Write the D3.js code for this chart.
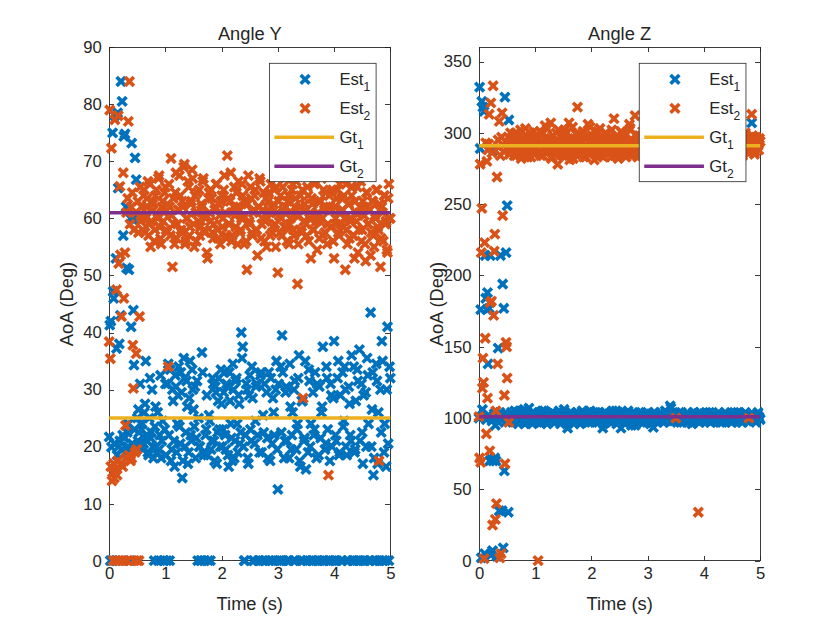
<!DOCTYPE html>
<html lang="en">
<head>
<meta charset="UTF-8">
<title>Angle Y / Angle Z</title>
<script src="https://d3js.org/d3.v7.min.js"></script>
<style>
    body { margin: 0; background: #ffffff; }
    svg text { font-family: "Liberation Sans", Arial, Helvetica, sans-serif; fill: #262626; }
</style>
</head>
<body>
<svg id="fig" width="840" height="630"></svg>
<script>
// sample times (s): dense start-up part, then the steady part
const timeS = [
    0,0.01,0.02,0.03,0.04,0.05,0.06,0.07,0.08,0.09,0.1,0.11,0.12,0.13,0.14,0.15,0.16,0.17,0.18,0.19,
    0.2,0.21,0.22,0.23,0.24,0.25,0.26,0.27,0.28,0.29,0.3,0.31,0.32,0.33,0.34,0.35,0.36,0.37,0.38,0.39,
    0.4,0.41,0.42,0.43,0.44,0.45,0.46,0.47,0.48,0.49,0.5,0.51,0.52,0.53,0.54,0.55,0.56,
    0.575,0.6,0.625,0.65,0.675,0.7,0.725,0.75,0.775,0.8,0.825,0.85,0.875,0.9,0.925,0.95,0.975,1,
    1.025,1.05,1.075,1.1,1.125,1.15,1.175,1.2,1.225,1.25,1.275,1.3,1.325,1.35,1.375,1.4,1.425,1.45,1.475,1.5,
    1.525,1.55,1.575,1.6,1.625,1.65,1.675,1.7,1.725,1.75,1.775,1.8,1.825,1.85,1.875,1.9,1.925,1.95,1.975,2,
    2.025,2.05,2.075,2.1,2.125,2.15,2.175,2.2,2.225,2.25,2.275,2.3,2.325,2.35,2.375,2.4,2.425,2.45,2.475,2.5,
    2.525,2.55,2.575,2.6,2.625,2.65,2.675,2.7,2.725,2.75,2.775,2.8,2.825,2.85,2.875,2.9,2.925,2.95,2.975,3,
    3.025,3.05,3.075,3.1,3.125,3.15,3.175,3.2,3.225,3.25,3.275,3.3,3.325,3.35,3.375,3.4,3.425,3.45,3.475,3.5,
    3.525,3.55,3.575,3.6,3.625,3.65,3.675,3.7,3.725,3.75,3.775,3.8,3.825,3.85,3.875,3.9,3.925,3.95,3.975,4,
    4.025,4.05,4.075,4.1,4.125,4.15,4.175,4.2,4.225,4.25,4.275,4.3,4.325,4.35,4.375,4.4,4.425,4.45,4.475,4.5,
    4.525,4.55,4.575,4.6,4.625,4.65,4.675,4.7,4.725,4.75,4.775,4.8,4.825,4.85,4.875,4.9,4.925,4.95,4.975,5
];
// in-between samples of the steady part (s)
const timeFill = [
    0.5875,0.6125,0.6375,0.6625,0.6875,0.7125,0.7375,0.7625,0.7875,0.8125,0.8375,0.8625,0.8875,0.9125,0.9375,0.9625,0.9875,
    1.0125,1.0375,1.0625,1.0875,1.1125,1.1375,1.1625,1.1875,1.2125,1.2375,1.2625,1.2875,1.3125,1.3375,1.3625,1.3875,1.4125,1.4375,1.4625,1.4875,
    1.5125,1.5375,1.5625,1.5875,1.6125,1.6375,1.6625,1.6875,1.7125,1.7375,1.7625,1.7875,1.8125,1.8375,1.8625,1.8875,1.9125,1.9375,1.9625,1.9875,
    2.0125,2.0375,2.0625,2.0875,2.1125,2.1375,2.1625,2.1875,2.2125,2.2375,2.2625,2.2875,2.3125,2.3375,2.3625,2.3875,2.4125,2.4375,2.4625,2.4875,
    2.5125,2.5375,2.5625,2.5875,2.6125,2.6375,2.6625,2.6875,2.7125,2.7375,2.7625,2.7875,2.8125,2.8375,2.8625,2.8875,2.9125,2.9375,2.9625,2.9875,
    3.0125,3.0375,3.0625,3.0875,3.1125,3.1375,3.1625,3.1875,3.2125,3.2375,3.2625,3.2875,3.3125,3.3375,3.3625,3.3875,3.4125,3.4375,3.4625,3.4875,
    3.5125,3.5375,3.5625,3.5875,3.6125,3.6375,3.6625,3.6875,3.7125,3.7375,3.7625,3.7875,3.8125,3.8375,3.8625,3.8875,3.9125,3.9375,3.9625,3.9875,
    4.0125,4.0375,4.0625,4.0875,4.1125,4.1375,4.1625,4.1875,4.2125,4.2375,4.2625,4.2875,4.3125,4.3375,4.3625,4.3875,4.4125,4.4375,4.4625,4.4875,
    4.5125,4.5375,4.5625,4.5875,4.6125,4.6375,4.6625,4.6875,4.7125,4.7375,4.7625,4.7875,4.8125,4.8375,4.8625,4.8875,4.9125,4.9375,4.9625,4.9875
];

// Angle Y estimates (deg)
const angleYEst1 = [
    21.7,41.3,0,42,19.9,0,75,47.2,46,20.5,78,0,53,37.2,18.5,78.5,65.3,20,38,21,
    43,84,19.5,80.5,22,57,74.4,21.5,74.8,19,62,51.3,22.5,20,24,51,19.5,0,60,41,
    73.2,20.5,59.8,43.9,34.3,23,70.6,60.2,66.8,19.8,25,21,26.5,22.5,20.5,31,24,
    23,19.5,26,35,21,18.5,32,22.5,20,0,27,19,0,22,18,24.5,0,31,
    0,34.5,0,17.5,30,21,32.5,19,29,23.5,33,14.5,35.5,20,31.5,17,28.5,22,33.5,26.5,
    30.5,21.5,0,20,0,36.5,19,0,23,18.5,25.5,0,21,31,17.5,29.5,22.5,32,20,27.5,
    23,33,19.5,30.5,16.5,28,21.5,34.5,18,31.5,24,29,20.5,40,37.5,0,22,30,17,32.5,
    21,28.5,0,24.5,31,0,19,33,0,22.5,0,29.5,18,0,32,20.5,26,0,35,12.5,
    0,34,39.5,0,21,30.5,0,18,27,22,0,31.5,19.5,24,36,16.5,28,0,21.5,16,
    0,33.5,20,0,29.5,23,0,31,18.5,0,26,37.5,0,20.5,32,0,17.5,29,0,38.5,
    22,0,35,19,0,33,24.5,30,18.5,0,27.5,21,0,34,19.5,0,31.5,37,0,22.5,
    29,0,20,32.5,0,43.5,26.5,15,0,34.5,17,0,30,38.5,0,24,16.5,41,0,32
];
const angleYEst1Fill = [
    24,20.5,27.5,22,19,25,21.5,30,18,23.5,20,26,19.5,32.5,21,0,23,
    18.5,31,22,33.5,19.5,28,16.5,30.5,24,34,20.5,29.5,17.5,32,22.5,27,19,35,21,30,
    23.5,18,31.5,25,20,0,33,18.5,22,29,0,24.5,19.5,32,21,30.5,17,28,23,33.5,
    20,29.5,22,31,18.5,33,24,17.5,30,21,32,19,27.5,22.5,35.5,20,0,31,18,29,
    23,34,0,20.5,30.5,22,0,32.5,19,25.5,31,0,21.5,33,17.5,0,28.5,22,30,19.5,
    31,0,22.5,33,18,29.5,21,0,34.5,19.5,26,30,0,23,32,17.5,0,28,21,35,
    0,19,31.5,24,0,22,33,18,0,30.5,21.5,27,0,19.5,34,23,0,31,20,28.5,
    0,21,32,18.5,29,0,23.5,34,20,0,30.5,22,36,0,19,28,33.5,0,21,31,
    17,0,29.5,35.5,24,0,20,33,18,0,31.5,26,0,22.5,35,19,0,30,20.5,34
];
const angleYEst2 = [
    38.4,79,35.4,16.5,72.3,14,15.5,0,17,14.5,77.3,16,0,47.5,15,17.5,78,52.1,0,65.6,
    53.6,17,42.8,0,16.5,68,46,0,54,23.7,18,61,0,63.5,77,18.5,84,59,17.5,62,
    18,64.5,37.8,30.2,58,0,19,61,36.3,19.5,0,63,57.5,0,42.8,65.5,59.5,
    62,58,65,60,63.5,57,66,59.5,62.5,56,64,60.5,67,58.5,55.5,63,61,65.5,
    57.5,34,62,70.5,51.5,59,64.5,56.5,61.5,67.5,58,63,69,55.5,60,66.5,57,62.5,68.5,59,
    64,56,61,65,58.5,62,67,57.5,60.5,53,64.5,59.5,63.5,56.5,61.5,66,58,62.5,55.5,64,
    60,67.5,57,71,59,63,56,61,65.5,58.5,62,66.5,57.5,60,64,55.5,62.5,51,67.5,59,
    63.5,57,61.5,65,58,62,67,56.5,60,64.5,59.5,55,63,61,66,57.5,62.5,59,65.5,50.5,
    60.5,64,57,61.5,67,58.5,63,55.5,60,65,58,62,66.5,48.5,60.5,64,57.5,28.5,62.5,59,
    65.5,56,61,63.5,58,66,60,54.5,63,59.5,67,57,61.5,64.5,55.5,15,62,58.5,65,53,
    60,63.5,57.5,66,59,61.5,64,51,58,62.5,56.5,60,65.5,57,63,59.5,54,61,66.5,58,
    62,55.5,64.5,59,61.5,53.5,63,57,60.5,65,58.5,17.5,51.5,62,56,64,59.5,54,66,60
];
const angleYEst2Fill = [
    60,64,57.5,62,66.5,59,55,63,61.5,58,65,60,67.5,56.5,62,59.5,64.5,
    58,62.5,66,57,60.5,63.5,55.5,68,59,61.5,64,57.5,62,69.5,56,60,65.5,58.5,63,67,
    55,61,64.5,59.5,57,62.5,66.5,58,60,54,63.5,61,65,57.5,59,62,66,56.5,60.5,63,
    58.5,65,61,56.5,63.5,59,68,57,62,60.5,64.5,55.5,61.5,58,66,60,63,56,62.5,59.5,
    65.5,57.5,61,64,58,53.5,62,66.5,59,61.5,56,63.5,60,64.5,57,62,58.5,65,55,61,
    63,57.5,60,65.5,58.5,62,56,64,59,61,66,57,63.5,60.5,55.5,62,58,65,59.5,61.5,
    57,64,60,53,62.5,58,66.5,59.5,61,56.5,63,60,65,57.5,62,59,64,58.5,61.5,56,
    62,59,65,57,61,63.5,58.5,60,66,55.5,62.5,59.5,64,57,53,61,65.5,58,62,56,
    63,60.5,52.5,64.5,59,61.5,57.5,63,55,60,65,58,62.5,56.5,61,64,59,54.5,63.5,60
];

// Angle Z estimates (deg)
const angleZEst1 = [
    100,332,289,176,2,322,106,318,101,315,5,214,184,99,176,188,138,102,177,70,
    214,4,71,98,7,70,288,103,72,95,70,100,3,101,149,97,35,104,214,99,
    102,35,194,9,177,63,325,101,216,103,249,98,34,309,100,102,99,
    104,97,101,99,103,96,105,100,98,106,101,97,103,99,102,96,104,100,
    98,103,101,97,105,99,102,96.5,103,100,98,104,101,97,102,99,105,96,103,100,
    98,102,93,101,104,98,100,97,103,99,102,96,104,100,98,103,101,97,105,99,
    102,98,104,100,97,103,101,93,99,104,98,102,100,97,105,99,102,96,104,101,
    93,99,103,100,97,105,101,98,103,99,95,102,100,104,98,101,97,103,100,99,
    102,96,101,93.5,104,99,102,98,100,103,97,101,104,99,102,108.5,100,98,103,101,
    97,102,100,104,98,101,99,103,97,102,100,98,104,101,99,102,97,103,100,98,
    102,101,99,104,97,100,102,98,101,103,99,100,97,102,104,98,101,99,103,97,
    100,102,98,104,101,99,97,102,100,103,98,101,99,307,102,100,97,103,101,99
];
const angleZEst1Fill = [
    102,98,105,100,97,103,101,99,104,96,102,100,107,98,101,103,99,
    101,97,104,99,102,98,105,100,96,103,101,99,104,97,102,100,98,103,101,99,
    106,97,102,100,98,104,101,96,103,99,100,102,98,105,101,97,103,99,102,100,
    98,104,101,97,103,99,102,100,96,104,101,98,103,100,97,102,99,105,101,98,
    103,100,97,102,99,104,101,98,95,102,100,103,97,101,99,104,98,102,100,97,
    103,99,101,97,104,100,98,102,99,103,101,97,105,100,98,102,107,99,101,103,
    98,100,104,97,102,99,101,103,98,100,102,96,104,101,99,103,97,100,102,98,
    101,104,99,102,97,100,103,98,101,99,104,97,102,100,98,103,101,99,102,97,
    100,104,98,101,103,99,100,97,102,104,98,101,99,103,100,102,98,101,104,100
];
const angleZEst2 = [
    101,72,278,69,216,247,121,142,125,1.5,223,156,293,89,280,114,288,292,313,77,
    181,321,182,286,25,333,172,217,229,29,105,40,269,138,295,290,308,2,284,5,
    297,314,242,291,287,116,68,294,153,150,128,289,297,97,285,292,300,
    289,296,284,300,291,286,298,282,294,288,303,285,292,297,283,290,301,287,
    295,0,293,284,299,289,305,286,296,291,307,283,294,288,300,278,292,285,297,290,
    302,284,293,307,288,296,282,291,299,318,287,294,285,301,290,283,297,289,304,286,
    293,281,298,291,287,303,284,295,289,300,286,292,297,283,290,310,288,296,282,293,
    301,287,294,285,299,290,306,284,292,287,312,295,283,298,289,293,286,302,290,284,
    297,288,294,300,285,291,296,283,299,289,293,286,304,290,287,295,282,298,289,100,
    293,285,301,291,287,296,283,299,290,294,286,302,288,293,284,34,297,290,286,300,
    292,288,295,283,298,291,287,303,289,294,285,299,291,286,296,290,284,300,292,288,
    297,285,293,301,289,295,286,298,291,287,294,100,296,313,290,285,297,292,288,294
];
const angleZEst2Fill = [
    292,287,299,284,295,290,302,286,293,289,297,283,291,300,288,294,285,
    290,297,286,301,292,284,296,289,303,287,293,282,298,290,285,295,302,288,291,284,
    299,293,287,296,281,290,304,286,294,289,300,285,292,297,283,291,288,306,294,286,
    298,289,293,285,301,290,287,296,283,292,299,288,294,286,302,291,284,297,289,293,
    286,300,290,295,283,292,288,303,287,294,285,298,291,289,296,284,301,290,287,293,
    289,295,284,300,291,287,297,283,293,290,302,286,294,288,299,285,292,296,289,301,
    284,293,290,287,298,291,286,295,283,300,292,288,294,285,303,290,287,297,291,286,
    295,289,302,286,293,290,298,284,291,296,288,300,285,293,289,297,283,292,301,287,
    294,290,286,299,291,288,296,284,293,300,289,295,286,292,298,290,287,294,291,296
];

// ground truth levels [Gt1, Gt2]
const gtY = [25, 61];
const gtZ = [291, 101];

const xTicks = [0, 1, 2, 3, 4, 5];
const yTicksY = [0, 10, 20, 30, 40, 50, 60, 70, 80, 90];
const yTicksZ = [0, 50, 100, 150, 200, 250, 300, 350];
const legendNames = ["Est", "Est", "Gt", "Gt"];
const legendSubs = ["1", "2", "1", "2"];
const colors = ["#0072BD", "#D95319", "#EDB120", "#7E2F8E"];

const svg = d3.select("#fig");
const axW = 281.1, axTop = 47.25, axBottom = 560.7;
const ink = "#262626";
const crossPath = "M-4.4,-4.4L4.4,4.4M-4.4,4.4L4.4,-4.4";
const markerW = 3.6;

function drawPanel(cfg) {
    const x = d3.scaleLinear().domain([0, 5]).range([cfg.left, cfg.left + axW]);
    const y = d3.scaleLinear().domain([0, cfg.yMax]).range([axBottom, axTop]);
    const g = svg.append("g");

    // axes (inside ticks, box on)
    const axes = g.append("g").attr("class", "axes");
    const styleAxis = sel => {
        sel.attr("font-size", 16.7).attr("font-family", null).attr("color", ink);
        sel.select(".domain").remove();
        sel.selectAll("line").attr("stroke-width", 0.9).attr("shape-rendering", "crispEdges");
    };
    axes.append("g").attr("transform", `translate(0,${axBottom})`)
        .call(d3.axisBottom(x).tickValues(xTicks).tickFormat(d3.format("d")).tickSizeInner(-5).tickSizeOuter(0).tickPadding(6))
        .call(styleAxis);
    axes.append("g").attr("transform", `translate(0,${axTop})`)
        .call(d3.axisTop(x).tickValues(xTicks).tickFormat("").tickSizeInner(-5).tickSizeOuter(0))
        .call(styleAxis);
    axes.append("g").attr("transform", `translate(${cfg.left},0)`)
        .call(d3.axisLeft(y).tickValues(cfg.yTicks).tickFormat(d3.format("d")).tickSizeInner(-5).tickSizeOuter(0).tickPadding(7.5))
        .call(styleAxis);
    axes.append("g").attr("transform", `translate(${cfg.left + axW},0)`)
        .call(d3.axisRight(y).tickValues(cfg.yTicks).tickFormat("").tickSizeInner(-5).tickSizeOuter(0))
        .call(styleAxis);
    axes.append("rect")
        .attr("x", x(0)).attr("y", y(cfg.yMax))
        .attr("width", x(5) - x(0)).attr("height", y(0) - y(cfg.yMax))
        .attr("fill", "none").attr("stroke", ink).attr("stroke-width", 0.9)
        .attr("shape-rendering", "crispEdges");

    // scatter estimates: Est1 first, Est2 on top
    const sets = [
        [timeS, cfg.est1, 0], [timeFill, cfg.est1Fill, 0],
        [timeS, cfg.est2, 1], [timeFill, cfg.est2Fill, 1]
    ];
    sets.forEach(([ts, vals, k]) => {
        g.append("g").selectAll("path")
            .data(vals)
            .enter().append("path")
            .attr("d", crossPath)
            .attr("transform", (d, i) => `translate(${x(ts[i])},${y(d)})`)
            .attr("fill", "none")
            .attr("stroke", colors[k])
            .attr("stroke-width", markerW);
    });

    // ground truth lines
    cfg.gt.forEach((v, k) => {
        g.append("line")
            .attr("x1", x(0)).attr("x2", x(5))
            .attr("y1", y(v)).attr("y2", y(v))
            .attr("stroke", colors[k + 2])
            .attr("stroke-width", 3.5);
    });

    // title and labels
    const cx = (x(0) + x(5)) / 2;
    g.append("text").attr("x", cx).attr("y", 40).attr("text-anchor", "middle")
        .attr("font-size", 18.3).text(cfg.title);
    g.append("text").attr("x", cx).attr("y", 610).attr("text-anchor", "middle")
        .attr("font-size", 18.3).text("Time (s)");
    g.append("text")
        .attr("transform", `translate(${cfg.left - 35.9},${(axTop + axBottom) / 2}) rotate(-90)`)
        .attr("text-anchor", "middle").attr("font-size", 18.3).text("AoA (Deg)");

    // legend (northeast, opaque)
    const lw = 106.7, lh = 118.4;
    const lx = x(5) - 14.2 - lw, ly = 63.3;
    const leg = g.append("g");
    leg.append("rect").attr("x", lx).attr("y", ly).attr("width", lw).attr("height", lh)
        .attr("fill", "#ffffff").attr("stroke", ink).attr("stroke-width", 0.8);
    legendNames.forEach((name, k) => {
        const ry = 79.3 + 29 * k;
        if (k < 2) {
            leg.append("path").attr("d", crossPath)
                .attr("transform", `translate(${lx + 35.7},${ry})`)
                .attr("fill", "none").attr("stroke", colors[k]).attr("stroke-width", markerW);
        } else {
            leg.append("line").attr("x1", lx + 5).attr("x2", lx + 64.7)
                .attr("y1", ry).attr("y2", ry)
                .attr("stroke", colors[k]).attr("stroke-width", 3.5);
        }
        const t = leg.append("text").attr("x", lx + 70).attr("y", ry + 6).attr("font-size", 16.7);
        t.append("tspan").text(name);
        t.append("tspan").attr("dy", 5.7).attr("font-size", 12).text(legendSubs[k]);
    });
}

drawPanel({ left: 109.2, yMax: 90, yTicks: yTicksY, title: "Angle Y",
    est1: angleYEst1, est1Fill: angleYEst1Fill, est2: angleYEst2, est2Fill: angleYEst2Fill, gt: gtY });
drawPanel({ left: 479.05, yMax: 360, yTicks: yTicksZ, title: "Angle Z",
    est1: angleZEst1, est1Fill: angleZEst1Fill, est2: angleZEst2, est2Fill: angleZEst2Fill, gt: gtZ });
</script>
</body>
</html>
